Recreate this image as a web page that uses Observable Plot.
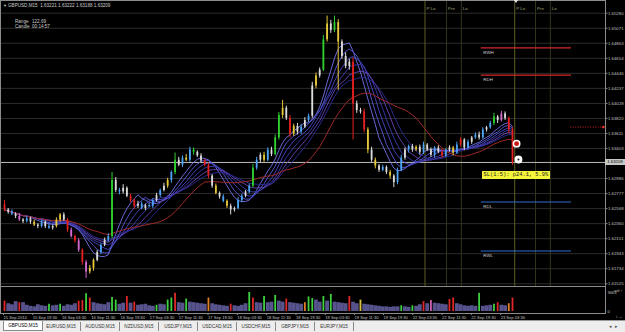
<!DOCTYPE html>
<html><head><meta charset="utf-8">
<script src="https://cdn.jsdelivr.net/npm/d3@7"></script>
<script src="https://cdn.jsdelivr.net/npm/@observablehq/plot@0.6"></script>
<style>
html,body{margin:0;padding:0;background:#000;}
#wrap{position:relative;width:625px;height:332px;background:#000;overflow:hidden;font-family:"Liberation Sans",Arial,sans-serif;}
#main{position:absolute;left:0;top:0;}
#vol{position:absolute;left:0;top:286px;}
.hdr{position:absolute;color:#c8c8c8;font-size:4.6px;white-space:pre;line-height:5px;}
#tabs{position:absolute;left:0;top:320px;width:625px;height:12px;background:#ededed;border-top:1px solid #9a9a9a;}
.tab{position:absolute;top:1px;height:9px;font-size:4.6px;line-height:9px;color:#333;text-align:center;border-right:1px solid #8a8a8a;}
.tab.on{background:#fff;color:#000;border:1px solid #8a8a8a;border-top:none;top:0;}
</style></head>
<body><div id="wrap"></div>
<script>
// ---------- data ----------
const symbol = "GBPUSD,M15";
const quote = ["1.63221", "1.63222", "1.63188", "1.63209"];
const rangeText = "122.69";
const candleTimer = "00:14:57";
const firstOpen = 1.6262;
const close = [1.6255,1.6252,1.6249,1.6246,1.6241,1.6239,1.6243,1.6238,1.6234,1.6232,
 1.6238,1.6232,1.6230,1.6232,1.6241,1.6248,1.6241,1.6227,1.6218,1.6212,
 1.6199,1.6182,1.6169,1.6174,1.6185,1.6196,1.6206,1.6213,1.6218,1.6296,
 1.6282,1.6280,1.6285,1.6274,1.6268,1.6260,1.6263,1.6257,1.6261,1.6260,
 1.6268,1.6275,1.6282,1.6288,1.6296,1.6307,1.6324,1.6317,1.6327,1.6324,
 1.6338,1.6335,1.6330,1.6323,1.6317,1.6302,1.6288,1.6278,1.6273,1.6267,
 1.6260,1.6255,1.6257,1.6268,1.6274,1.6280,1.6288,1.6313,1.6324,1.6331,
 1.6324,1.6338,1.6332,1.6355,1.6386,1.6396,1.6382,1.6360,1.6371,1.6363,
 1.6370,1.6379,1.6385,1.6427,1.6441,1.6449,1.6491,1.6513,1.6504,1.6515,
 1.6488,1.6468,1.6454,1.6460,1.6402,1.6393,1.6391,1.6366,1.6338,1.6324,
 1.6316,1.6310,1.6314,1.6307,1.6302,1.6293,1.6310,1.6327,1.6338,1.6343,
 1.6338,1.6342,1.6335,1.6345,1.6338,1.6331,1.6341,1.6335,1.6330,1.6338,
 1.6341,1.6334,1.6345,1.6352,1.6341,1.6349,1.6355,1.6359,1.6355,1.6366,
 1.6369,1.6375,1.6384,1.6379,1.6388,1.6382,1.6366,1.6321];
const wickUp = [6,2,3,2,4,2,3,2,3,2, 3,2,4,2,3,2,3,2,3,2, 3,2,3,4,2,3,2,3,4,11,
 4,3,5,2,3,2,4,3,2,3, 2,3,2,4,3,2,10,4,3,5, 4,3,2,3,2,3,2,3,2,3,
 2,3,2,4,3,2,3,5,4,3, 4,3,4,4,4,11,3,4,3,4, 3,4,3,5,4,3,6,11,5,9,
 4,3,5,4,6,4,3,4,3,4, 3,2,3,2,3,2,3,4,3,2, 3,2,3,4,2,3,2,3,4,2,
 3,2,4,3,2,3,2,3,4,3, 2,3,5,2,4,3,2,3];
const wickDown = [2,3,2,3,2,3,2,3,2,3, 2,3,2,3,2,3,2,3,2,3, 3,4,9,3,4,2,3,2,3,3,
 3,4,3,2,3,4,3,2,3,2, 3,2,3,2,3,4,3,2,3,2, 3,4,2,3,2,4,3,2,3,2,
 3,7,3,2,3,2,3,2,3,4, 3,2,3,2,3,4,3,5,3,4, 3,2,3,3,4,3,2,3,4,3,
 67,4,3,5,50,4,3,4,5,3, 4,3,2,3,4,7,3,2,3,4, 3,2,4,3,2,3,4,2,3,2,
 3,4,2,3,4,2,3,2,3,2, 3,2,3,4,2,3,5,4];
const candleColorCode = "rwbwpwbwyw" + "bwbwyywrpr" + "prpyywbwbg" + "wbwwrrwbwb" + "bwbwybgwby" +
 "bgwwrrwywb" + "ywwbbwbgbw" + "ybwggywryw" + "bwbwywgywg" + "ywwwrwwryw" + "ywbwywbbwb" +
 "wywbwwbwrb" + "wybrwbwbwb" + "wbgwpwrr";
const volume = [2000,1500,1300,1900,1700,1700,1200,1000,900,1300,
 1100,1000,1400,1100,1200,1400,1000,1300,1200,1500,
 2000,2100,3400,2600,1700,1500,1400,1300,1700,2700,
 2200,1400,1600,2900,1600,1800,1200,1300,1400,1100,
 1000,1200,1400,1300,2200,2600,3500,1700,1600,2400,
 1800,1700,1600,1500,1400,2600,1500,1300,1200,1100,
 1000,1400,1100,1000,1200,1500,3663,2600,1700,1600,
 2900,1700,1800,3100,2000,1800,2400,1700,1600,1500,
 1400,1700,2800,2500,2200,1800,2900,2000,3300,1800,
 1700,1600,1500,2900,1800,1500,2200,1400,1300,1200,
 1100,1000,900,900,800,900,900,1100,900,800,
 1100,1000,1300,1900,1500,2100,1600,1500,1400,1300,
 2300,2600,1500,1300,1100,1000,1100,1000,3500,1000,
 1100,1200,1400,1700,1200,1100,1500,2600];
const volumeColorCode = "rvvvrvvvvv" + "vvgvvgvvvv" + "rrgrvvvvvg" + "gvvrvrvvvv" + "vgvvggrvvg" +
 "vvvvvovvvv" + "vrvvvvgrvv" + "gvvgvvrvvv" + "voggvvgvgv" + "vvvrvvyvvv" + "vvvvvvvgvv" +
 "gvvrvpvvvv" + "rrvvvvvvgv" + "vvgrvvor";
const volumeMax = 3663;
const priceTicks = [1.65280,1.65071,1.64863,1.64654,1.64446,1.64237,1.64028,1.63820,1.63611,1.63403,
 1.62986,1.62777,1.62568,1.62360,1.62151,1.61943,1.61734,1.61525];
const currentPrice = 1.63209;
const timeLabels = ["15 Sep 2014","15 Sep 19:30","16 Sep 03:30","16 Sep 11:30","16 Sep 19:30","17 Sep 03:30",
 "17 Sep 11:30","17 Sep 19:30","18 Sep 03:30","18 Sep 11:30","18 Sep 19:30","19 Sep 03:30","19 Sep 11:30",
 "19 Sep 19:30","22 Sep 03:30","22 Sep 11:30","22 Sep 19:30","23 Sep 03:30"];
const timeLabelBars = [-0.27,7.6,15.5,23.4,31.3,39.2,47.0,54.9,62.8,70.7,78.6,86.5,94.4,102.2,110.1,118.0,125.9,133.8];
const levelNames = ["RWH","RDH","RDL","RWL"];
const levelPrices = [1.6480,1.6442,1.6266,1.6198];
const levelKinds = ["high","high","low","low"];
const levelFrom = 128.6, levelTo = 152.9;
const pendingPrice = 1.6370, pendingFrom = 152.7, pendingTo = 161.5;
const sessionNames = ["P Lo","Pre","Lo","P Lo","Pre","Lo"];
const sessionBars = [113.4,119.2,123.2,137.6,143.2,147.2];
const tradeBars = [138.1,138.6];
const tradePrices = [1.6347,1.6325];
const slText = "SL(1:5): p24.1, 5.9%";
const slBar = 128.8, slPrice = 1.6303;
const maPeriods = [8,10,12,14,16,18];
const maColors = ["#7474ee","#5a5ade","#4848c8","#3b3bb2","#6844b8","#2d2d9a"];
const slowPeriod = 26;
const tabNames = ["GBPUSD,M15","EURUSD,M15","AUDUSD,M15","NZDUSD,M15","USDJPY,M15","USDCAD,M15","USDCHF,M15","GBPJPY,M15","EURJPY,M15"];

// ---------- build ----------
const pip = 0.0001;
const candleColors = {w:"#dcdcdc", b:"#4ea4f5", g:"#2fd02f", y:"#e6c83a", r:"#e42020", p:"#d46ad0"};
const volColors = {v:"#57538c", g:"#3fd23f", r:"#e02828", o:"#e08020", y:"#d8c440", p:"#d060b0"};
const bars = close.map((c, i) => {
  const open = i === 0 ? firstOpen : close[i - 1];
  return {i, open, close: c,
    high: Math.max(open, c) + wickUp[i] * pip,
    low: Math.min(open, c) - wickDown[i] * pip,
    color: candleColors[candleColorCode[i]],
    vol: volume[i], vcode: volumeColorCode[i], vcolor: volColors[volumeColorCode[i]]};
});
const levels = levelNames.map((n, k) => ({name: n, price: levelPrices[k], from: levelFrom, to: levelTo,
  color: levelKinds[k] === "high" ? "#d42a2a" : "#2f6fd0"}));
const sessions = sessionNames.map((n, k) => ({name: n, bar: sessionBars[k], strong: n === "P Lo"}));
const trades = tradeBars.map((b, k) => ({bar: b, price: tradePrices[k]}));
const labelOf = new Map(timeLabelBars.map((b, k) => [b, timeLabels[k]]));

const xOpt = {type: "linear", domain: [0, 137], range: [4, 512], axis: null};
const font = '"Liberation Sans",Arial,sans-serif';

const main = Plot.plot({
  width: 625, height: 286, marginTop: 0, marginRight: 20, marginBottom: 0, marginLeft: 0,
  x: xOpt,
  y: {domain: [1.61525, 1.65280], range: [283.3, 12.7], axis: null},
  style: {background: "transparent", color: "#c4c4c4", fontFamily: font, fontSize: "4.4px"},
  marks: [
    Plot.ruleY(priceTicks, {stroke: "#2c2c2c", strokeWidth: 1}),
    Plot.ruleX(sessions, {x: "bar", stroke: d => d.strong ? "#5e5e22" : "#34341a", strokeWidth: 1}),
    Plot.ruleY([currentPrice], {stroke: "#bdbdbd", strokeWidth: 1}),
    Plot.ruleY(levels, {y: "price", x1: "from", x2: "to", stroke: "color", strokeWidth: 1.2}),
    Plot.ruleY([pendingPrice], {x1: pendingFrom, x2: pendingTo, stroke: "#d02020", strokeDasharray: "1,1.5"}),
    Plot.dot([pendingPrice], {x: pendingTo, y: d => d, r: 1.3, symbol: "square", fill: "#ff3030"}),
    ...maPeriods.map((k, j) => Plot.lineY(bars, Plot.windowY({k, anchor: "end", reduce: "mean"},
      {x: "i", y: "close", stroke: maColors[j], strokeWidth: 0.9}))),
    Plot.lineY(bars, Plot.windowY({k: slowPeriod, anchor: "end", reduce: "mean"},
      {x: "i", y: "close", stroke: "#a02a2a", strokeWidth: 1})),
    Plot.ruleX(bars, {x: "i", y1: "low", y2: "high", stroke: "color", strokeWidth: 1}),
    Plot.ruleX(bars, {x: "i", y1: "open", y2: "close", stroke: "color", strokeWidth: 1.8}),
    Plot.dot(trades.slice(0, 1), {x: "bar", y: "price", r: 3.2, stroke: "#fff", strokeWidth: 1.5, fill: "#c81818"}),
    Plot.dot(trades.slice(1), {x: "bar", y: "price", r: 3.2, stroke: "#fff", strokeWidth: 1.5, fill: "#fff"}),
    Plot.dot(trades.slice(1), {x: "bar", y: "price", r: 1, fill: "#222"}),
    Plot.text(levels, {x: "from", y: "price", text: "name", dx: 2, dy: 4.5, textAnchor: "start", fill: "#d0d0d0", fontSize: 4.4}),
    Plot.text(sessions, {x: "bar", text: "name", frameAnchor: "top", dy: 6, dx: 1.5, textAnchor: "start", fill: "#a6a67a", fontSize: 4.4}),
    Plot.axisY(priceTicks, {anchor: "right", tickSize: 1.5, tickPadding: 1, stroke: "#8a8a8a", fill: "#c0c0c0",
      fontSize: 4.3, tickFormat: d => d.toFixed(5)}),
    Plot.frame({stroke: "#8c8c8c"})
  ]
});
main.id = "main";

const vol = Plot.plot({
  width: 625, height: 34, marginTop: 0, marginRight: 20, marginBottom: 7, marginLeft: 0,
  x: xOpt,
  y: {domain: [0, volumeMax], range: [25, 6], axis: null},
  style: {background: "transparent", color: "#c4c4c4", fontFamily: font, fontSize: "4.2px"},
  marks: [
    Plot.ruleX(bars.filter(d => d.vcode === "v"), {x: "i", y1: 0, y2: "vol", stroke: "vcolor", strokeWidth: 3.8}),
    Plot.ruleX(bars.filter(d => d.vcode !== "v"), {x: "i", y1: 0, y2: "vol", stroke: "vcolor", strokeWidth: 1.8}),
    Plot.axisY([0, volumeMax], {anchor: "right", tickSize: 0, tickPadding: 2, fill: "#c0c0c0", fontSize: 4.1,
      tickFormat: d => String(d)}),
    Plot.axisX(timeLabelBars, {anchor: "bottom", tickSize: 2, tickPadding: 1, textAnchor: "start",
      stroke: "#8a8a8a", fill: "#c4c4c4", fontSize: 4.1, tickFormat: d => labelOf.get(d)}),
    Plot.frame({stroke: "#8c8c8c"})
  ]
});
vol.id = "vol";

const wrap = document.getElementById("wrap");
wrap.appendChild(main);
wrap.appendChild(vol);

// header texts
function addHdr(txt, left, top, extra) {
  const d = document.createElement("div");
  d.className = "hdr"; d.textContent = txt;
  d.style.left = left + "px"; d.style.top = top + "px";
  if (extra) Object.assign(d.style, extra);
  wrap.appendChild(d);
}
addHdr("\u25BC", 3, 3, {fontSize: "4px"});
addHdr(symbol + "  " + quote.join(" "), 8, 3);
addHdr("Range", 15, 19);
addHdr(rangeText, 32, 19);
addHdr("Candle", 15, 24);
addHdr(candleTimer, 32, 24);

// shift marker
const tri = document.createElement("div");
Object.assign(tri.style, {position: "absolute", left: (main.scale("x").apply(138.2) - 2.5) + "px", top: "0px", width: 0, height: 0,
  borderLeft: "2.5px solid transparent", borderRight: "2.5px solid transparent", borderTop: "3px solid #e8e8e8"});
wrap.appendChild(tri);

// current price box on the axis
const cy = main.scale("y").apply(currentPrice);
const cp = document.createElement("div");
Object.assign(cp.style, {position: "absolute", left: "605px", top: (cy - 3) + "px", width: "20px", height: "6px",
  background: "#c8c8c8", color: "#000", fontSize: "4.3px", lineHeight: "6px", fontFamily: font, textAlign: "center"});
cp.textContent = currentPrice.toFixed(5);
wrap.appendChild(cp);

// SL label
const sl = document.createElement("div");
Object.assign(sl.style, {position: "absolute", left: main.scale("x").apply(slBar) + "px",
  top: (main.scale("y").apply(slPrice) - 4) + "px", height: "8px", padding: "0 2px",
  background: "#f4f43a", color: "#222", fontSize: "5.4px", lineHeight: "8px", fontFamily: '"Liberation Mono","DejaVu Sans Mono",monospace', whiteSpace: "pre"});
sl.textContent = slText;
wrap.appendChild(sl);

// tabs
const tabs = document.createElement("div");
tabs.id = "tabs";
tabNames.forEach((n, k) => {
  const t = document.createElement("div");
  t.className = "tab" + (k === 0 ? " on" : "");
  t.style.left = (3 + 39 * k) + "px"; t.style.width = "38px";
  t.textContent = n;
  tabs.appendChild(t);
});
const arr = document.createElement("div");
Object.assign(arr.style, {position: "absolute", left: "609px", top: "1px", fontSize: "5px", lineHeight: "9px", color: "#555", whiteSpace: "pre"});
arr.textContent = "\u25C2  \u25B8";
tabs.appendChild(arr);
wrap.appendChild(tabs);
</script>
</body></html>
